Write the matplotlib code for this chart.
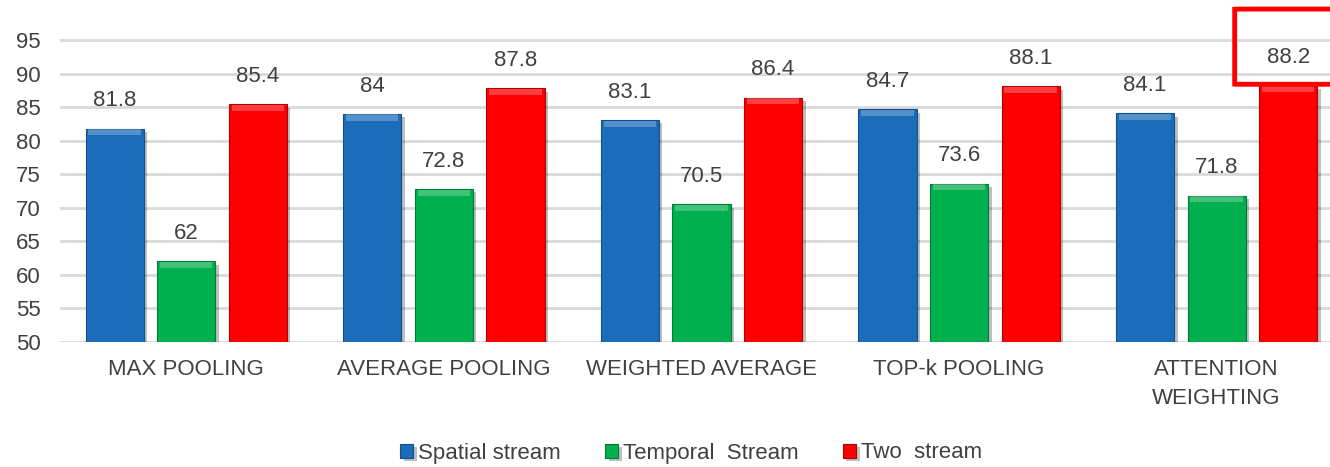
import matplotlib
matplotlib.use("Agg")
import matplotlib.pyplot as plt
import matplotlib.patheffects as pe
from matplotlib.patches import FancyBboxPatch
import numpy as np

plt.rcParams['font.family'] = ['Liberation Sans', 'DejaVu Sans']

categories = ["MAX POOLING", "AVERAGE POOLING", "WEIGHTED AVERAGE",
              "TOP-k POOLING", "ATTENTION\nWEIGHTING"]
spatial = [81.8, 84, 83.1, 84.7, 84.1]
temporal = [62, 72.8, 70.5, 73.6, 71.8]
two_stream = [85.4, 87.8, 86.4, 88.1, 88.2]
series_names = ["Spatial stream", "Temporal  Stream", "Two  stream"]
y_ticks = [50, 55, 60, 65, 70, 75, 80, 85, 90, 95]

colors = ["#1B6DBA", "#00B04F", "#FF0000"]
edges = ["#124E88", "#007A36", "#B00000"]
text_color = "#404040"
fs = 16

W, H = 1330, 467
fig = plt.figure(figsize=(W / 100, H / 100), dpi=100)
ax = fig.add_axes([60 / W, 125 / H, 1 - 60 / W, (460.6 - 125) / H])

x = np.arange(len(categories))
width = 0.226
offset = 0.278
shadow = [pe.SimplePatchShadow(offset=(2.5, -2.5), shadow_rgbFace="#000000", alpha=0.25),
          pe.Normal()]

bar_groups = []
for i, (vals, name) in enumerate(zip([spatial, temporal, two_stream], series_names)):
    bars = ax.bar(x + (i - 1) * offset, [v - 50 for v in vals], width, bottom=50,
                  color=colors[i], edgecolor=edges[i], linewidth=0.8,
                  label=name, zorder=3)
    for b in bars:
        b.set_path_effects(shadow)
    # lighter bevel along the top of each bar
    ax.bar(x + (i - 1) * offset, [0.9] * len(vals), width * 0.9,
           bottom=[v - 1.0 for v in vals], color="white", alpha=0.25,
           linewidth=0, zorder=4)
    bar_groups.append(bars)
    for xi, v in zip(x + (i - 1) * offset, vals):
        ax.annotate(f"{v:g}", (xi, v), xytext=(0, 20), textcoords="offset points",
                    ha="center", va="center", fontsize=fs, color=text_color)

ax.set_ylim(50, 100)
ax.set_xlim(-0.49, 4.44)
ax.set_yticks(y_ticks)
ax.set_xticks(x)
ax.set_xticklabels(categories, linespacing=1.5)
ax.tick_params(axis="both", length=0, labelsize=fs, labelcolor=text_color)
ax.tick_params(axis="y", pad=14)
ax.tick_params(axis="x", pad=12.5)
ax.grid(axis="y", color="#D9D9D9", linewidth=2, zorder=0)
ax.set_axisbelow(True)
for s in ax.spines.values():
    s.set_visible(False)

# highlight box around the best result
box = FancyBboxPatch((4.07, 88.4), 0.6, 11.2,
                     boxstyle="round,pad=0,rounding_size=0.02",
                     fill=False, edgecolor="#FF0000", linewidth=3.5,
                     clip_on=False, zorder=6)
ax.add_patch(box)

fig.legend(handles=bar_groups, labels=series_names, loc="center",
           bbox_to_anchor=(691 / W, 1 - 453 / H), ncol=3, frameon=False,
           fontsize=fs, handlelength=0.6, handleheight=0.6, handletextpad=0.2,
           columnspacing=2.0, labelcolor=text_color)

fig.savefig("out.png", dpi=100)
